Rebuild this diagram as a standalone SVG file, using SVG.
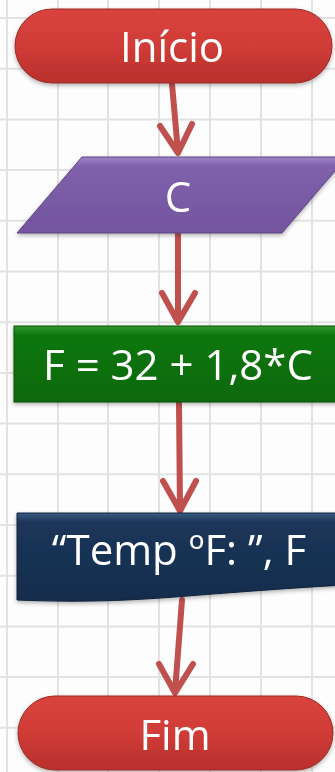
<svg xmlns="http://www.w3.org/2000/svg" width="335" height="772" viewBox="0 0 335 772">
<defs>
<linearGradient id="gRed" x1="0" y1="0" x2="0" y2="1">
<stop offset="0" stop-color="#d9433e"/>
<stop offset="0.5" stop-color="#d03c37"/>
<stop offset="1" stop-color="#b8302c"/>
</linearGradient>
<linearGradient id="gPurple" x1="0" y1="0" x2="0" y2="1">
<stop offset="0" stop-color="#a086c8"/>
<stop offset="0.12" stop-color="#7f60ab"/>
<stop offset="1" stop-color="#7455a0"/>
</linearGradient>
<linearGradient id="gGreen" x1="0" y1="0" x2="0" y2="1">
<stop offset="0" stop-color="#2f9a2f"/>
<stop offset="0.12" stop-color="#0e760e"/>
<stop offset="1" stop-color="#07690a"/>
</linearGradient>
<linearGradient id="gNavy" x1="0" y1="0" x2="0" y2="1">
<stop offset="0" stop-color="#3b5a82"/>
<stop offset="0.1" stop-color="#1b3659"/>
<stop offset="1" stop-color="#152c4c"/>
</linearGradient>
<filter id="sh" x="-10%" y="-10%" width="120%" height="130%">
<feDropShadow dx="0" dy="2" stdDeviation="2" flood-color="#000" flood-opacity="0.3"/>
</filter>
</defs>
<style>
.grid line{stroke:#e2e2e2;stroke-width:2}
.lbl{font-family:"Open Sans","Liberation Sans",sans-serif;font-size:42px;fill:#ffffff;text-anchor:middle}
.arr{fill:none;stroke:#c0504d;stroke-width:6;stroke-linecap:round;stroke-linejoin:round}
.node{filter:url(#sh)}
</style>
<rect x="0" y="0" width="335" height="772" fill="#fdfdfd"/>
<g class="grid">
<line x1="7" y1="0" x2="7" y2="772"/>
<line x1="58" y1="0" x2="58" y2="772"/>
<line x1="108" y1="0" x2="108" y2="772"/>
<line x1="159" y1="0" x2="159" y2="772"/>
<line x1="210" y1="0" x2="210" y2="772"/>
<line x1="261" y1="0" x2="261" y2="772"/>
<line x1="312" y1="0" x2="312" y2="772"/>
<line x1="0" y1="18" x2="335" y2="18"/>
<line x1="0" y1="68.7" x2="335" y2="68.7"/>
<line x1="0" y1="119.4" x2="335" y2="119.4"/>
<line x1="0" y1="170.1" x2="335" y2="170.1"/>
<line x1="0" y1="220.8" x2="335" y2="220.8"/>
<line x1="0" y1="271.5" x2="335" y2="271.5"/>
<line x1="0" y1="322.2" x2="335" y2="322.2"/>
<line x1="0" y1="372.9" x2="335" y2="372.9"/>
<line x1="0" y1="423.6" x2="335" y2="423.6"/>
<line x1="0" y1="474.3" x2="335" y2="474.3"/>
<line x1="0" y1="525" x2="335" y2="525"/>
<line x1="0" y1="575.7" x2="335" y2="575.7"/>
<line x1="0" y1="626.4" x2="335" y2="626.4"/>
<line x1="0" y1="677.1" x2="335" y2="677.1"/>
<line x1="0" y1="727.8" x2="335" y2="727.8"/>
</g>
<g id="connectors">
<path class="arr" d="M172,84 L178,152 M160,126 L178,153 L192,124"/>
<path class="arr" d="M178,234 L178,321 M162,293 L178,322 L195,293"/>
<path class="arr" d="M179,403 L180,510 M163,481 L180,511 L196,481"/>
<path class="arr" d="M182,600 L175,692 M159,664 L175,693 L193,664"/>
</g>
<g id="inicio" class="node">
<rect x="15" y="9" width="317" height="74" rx="37" fill="url(#gRed)" stroke="#9c2a26" stroke-width="1"/>
<text class="lbl" x="172" y="62">Início</text>
</g>
<g id="entrada-c" class="node">
<polygon points="82,157 347,157 282,233 17,233" fill="url(#gPurple)" stroke="#5a4580" stroke-width="1"/>
<text class="lbl" x="178" y="212">C</text>
</g>
<g id="calculo" class="node">
<rect x="14" y="326" width="330" height="76" fill="url(#gGreen)" stroke="#0a4f0a" stroke-width="1"/>
<text class="lbl" x="178" y="380">F = 32 + 1,8*C</text>
</g>
<g id="saida" class="node">
<path d="M17,513 H345 V585 C290,588 240,592 200,595 C140,600 90,603 17,600 Z" fill="url(#gNavy)" stroke="#0e223c" stroke-width="1"/>
<text class="lbl" x="179" y="565">“Temp ºF: ”, F</text>
</g>
<g id="fim" class="node">
<rect x="18" y="696" width="315" height="74" rx="37" fill="url(#gRed)" stroke="#9c2a26" stroke-width="1"/>
<text class="lbl" x="175" y="750">Fim</text>
</g>
</svg>
